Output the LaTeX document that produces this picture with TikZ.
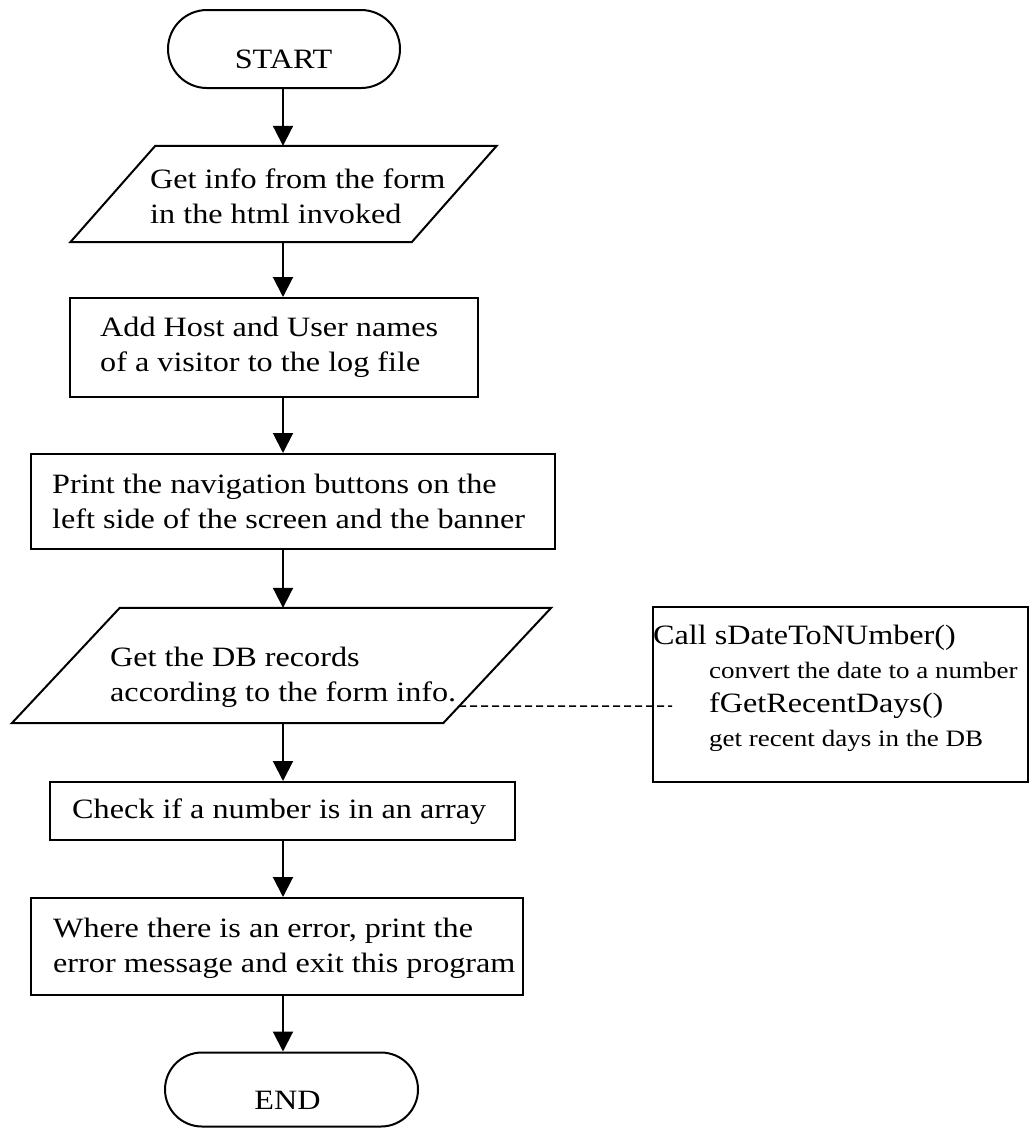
\documentclass[tikz,border=0pt]{standalone}
\usepackage{fontspec}
\setmainfont{Liberation Serif}[FakeStretch=1.15]
\usetikzlibrary{arrows.meta,shapes.misc,calc}

\newcommand\flowfont{\fontsize{28pt}{35pt}\selectfont}
\newcommand\notefont{\fontsize{23.5pt}{28pt}\selectfont}
% outline of an input/output step: a slanted frame around a plain node
\newcommand\ioframe[2]{%
  \draw[outline] ([xshift=#2]#1.north west) -- ([xshift=#2]#1.north east)
    -- ([xshift=-#2]#1.south east) -- ([xshift=-#2]#1.south west) -- cycle;}

\begin{document}
\begin{tikzpicture}[x=1pt,y=-1pt,
  outline/.style={line width=2pt},
  terminal/.style={draw, outline, rounded rectangle, inner sep=0pt},
  stepbox/.style={draw, outline, rectangle, inner sep=0pt},
  iobox/.style={rectangle, inner sep=0pt},
  flowtext/.style={inner sep=0pt, align=left, font=\flowfont},
  flow/.style={outline, -{Triangle[length=20pt,width=20pt]}},
  callout/.style={line width=1.5pt, dash pattern=on 7pt off 4pt},
  note/.style={anchor=base west, inner sep=0pt},
]
\path[use as bounding box, fill=white] (0,0) rectangle (1032,1128);

% main column of steps
\node[terminal, minimum width=232pt, minimum height=78pt] (start) at (284,49) {};
\node[flowtext] (start-txt) at (283.5,59) {START};

\node[iobox, minimum width=341pt, minimum height=96pt] (getinfo) at (283.5,194) {};
\ioframe{getinfo}{42.5pt}
\node[flowtext, anchor=west] (getinfo-txt) at (150,196)
  {Get info from the form\\in the html invoked};

\node[stepbox, minimum width=408pt, minimum height=99pt] (addlog) at (274,347.5) {};
\node[flowtext, anchor=west] (addlog-txt) at (100,347)
  {Add Host and User names\\of a visitor to the log file};

\node[stepbox, minimum width=524pt, minimum height=95pt] (navbar) at (293,501.5) {};
\node[flowtext, anchor=west] (navbar-txt) at (52,501)
  {Print the navigation buttons on the\\left side of the screen and the banner};

\node[iobox, minimum width=431pt, minimum height=115pt] (readdb) at (281.5,665.5) {};
\ioframe{readdb}{54pt}
\node[flowtext, anchor=west] (readdb-txt) at (110,677)
  {Get the DB records\\according to the form info.};

\node[stepbox, minimum width=465pt, minimum height=58pt] (check) at (282.5,811) {};
\node[flowtext, anchor=west] (check-txt) at (72,812)
  {Check if a number is in an array};

\node[stepbox, minimum width=492pt, minimum height=97pt] (error) at (277,946.5) {};
\node[flowtext, anchor=west] (error-txt) at (53,948)
  {Where there is an error, print the\\error message and exit this program};

\node[terminal, minimum width=253pt, minimum height=74pt] (end) at (291.5,1089.5) {};
\node[flowtext] (end-txt) at (287.5,1100) {END};

% side note with the helper functions
\node[stepbox, minimum width=375pt, minimum height=175pt] (calls) at (840.5,694.5) {};
\node[note, font=\flowfont] (call-a) at ([shift={(1,38)}]calls.north west) {Call sDateToNUmber()};
\node[note, font=\notefont] (call-a-doc) at ([shift={(57,72)}]calls.north west) {convert the date to a number};
\node[note, font=\flowfont] (call-b) at ([shift={(57,106)}]calls.north west) {fGetRecentDays()};
\node[note, font=\notefont] (call-b-doc) at ([shift={(57,140)}]calls.north west) {get recent days in the DB};

% connectors
\coordinate (axis) at (283,0);
\draw[flow] (start.south -| axis) -- (getinfo.north -| axis);
\draw[flow] (getinfo.south -| axis) -- (addlog.north -| axis);
\draw[flow] (addlog.south -| axis) -- (navbar.north -| axis);
\draw[flow] (navbar.south -| axis) -- (readdb.north -| axis);
\draw[flow] (readdb.south -| axis) -- (check.north -| axis);
\draw[flow] (check.south -| axis) -- (error.north -| axis);
\draw[flow] (error.south -| axis) -- (end.north -| axis);

\coordinate (tap) at (672,706);
\draw[callout] ([shift={(-38,-17)}]readdb.south east) -- (tap);
\end{tikzpicture}
\end{document}
